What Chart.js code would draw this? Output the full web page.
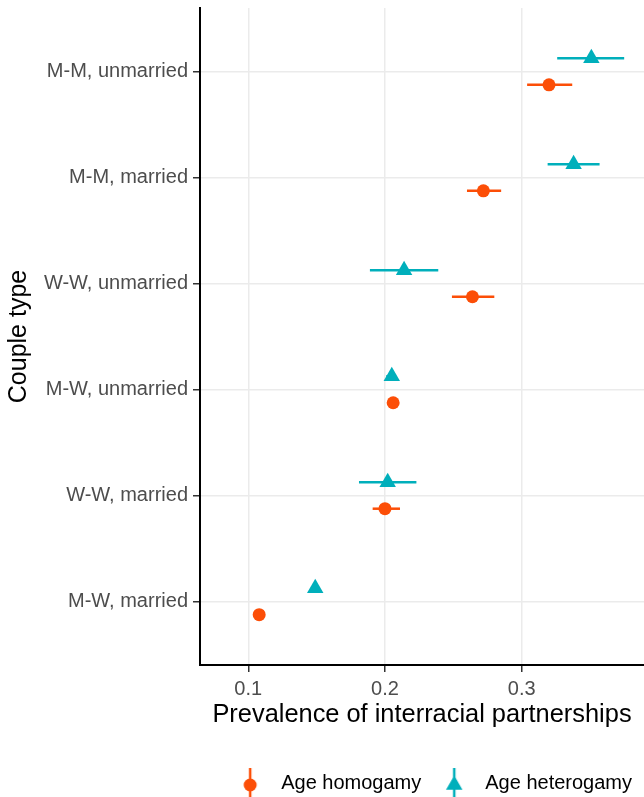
<!DOCTYPE html>
<html>
<head>
<meta charset="utf-8">
<script src="https://cdn.jsdelivr.net/npm/chart.js@4.4.1/dist/chart.umd.min.js"></script>
<style>
  html, body { margin: 0; padding: 0; background: #fff; }
  #wrap { width: 644px; height: 797px; }
</style>
</head>
<body>
<div id="wrap"><canvas id="prevChart"></canvas></div>
<script>
// categories listed top to bottom, as in the picture
const categories = ["M-M, unmarried", "M-M, married", "W-W, unmarried", "M-W, unmarried", "W-W, married", "M-W, married"];
const seriesNames = ["Age homogamy", "Age heterogamy"];

const homoMid = [0.320, 0.272, 0.264, 0.206, 0.200, 0.108];
const homoLo  = [0.304, 0.260, 0.249, 0.203, 0.191, 0.106];
const homoHi  = [0.337, 0.285, 0.280, 0.209, 0.211, 0.111];

const heteroMid = [0.351, 0.338, 0.214, 0.205, 0.202, 0.149];
const heteroLo  = [0.326, 0.319, 0.189, 0.201, 0.181, 0.146];
const heteroHi  = [0.375, 0.357, 0.239, 0.208, 0.223, 0.152];

const xTicks = [0.1, 0.2, 0.3];

const colors = ["#FC4E07", "#00AFBB"];
const font = "'Liberation Sans', Arial, sans-serif";

function rowPos(i) {
    return categories.length - i;
}

function buildPoints(mid, lo, hi, shift) {
    return categories.map((c, i) => ({ x: mid[i], y: rowPos(i) + shift, lo: lo[i], hi: hi[i] }));
}

// horizontal error bars, drawn under the markers
const errorBars = {
    id: "errorBars",
    beforeDatasetsDraw(chart) {
        const ctx = chart.ctx;
        const xs = chart.scales.x;
        const ys = chart.scales.y;
        chart.data.datasets.forEach(ds => {
            ctx.save();
            ctx.strokeStyle = ds.backgroundColor;
            ctx.lineWidth = 2.5;
            ds.data.forEach(p => {
                let y = ys.getPixelForValue(p.y);
                ctx.beginPath();
                ctx.moveTo(xs.getPixelForValue(p.lo), y);
                ctx.lineTo(xs.getPixelForValue(p.hi), y);
                ctx.stroke();
            });
            ctx.restore();
        });
    }
};

// legend key: vertical error bar with the marker on it
function keyGlyph(color, style, radius) {
    let c = document.createElement("canvas");
    c.width = 20;
    c.height = 40;
    let g = c.getContext("2d");
    g.strokeStyle = color;
    g.fillStyle = color;
    g.lineWidth = 2.5;
    g.beginPath();
    g.moveTo(10, 5);
    g.lineTo(10, 34);
    g.stroke();
    Chart.helpers.drawPoint(g, { pointStyle: style, radius: radius, borderWidth: 0, rotation: 0 }, 10, 22);
    return c;
}

const glyphs = [keyGlyph(colors[0], "circle", 6.5), keyGlyph(colors[1], "triangle", 9.5)];

let ctx = document.getElementById("prevChart").getContext("2d");
let chart = new Chart(ctx, {
    type: "scatter",
    data: {
        datasets: [
            {
                label: seriesNames[0],
                data: buildPoints(homoMid, homoLo, homoHi, -0.125),
                backgroundColor: colors[0],
                borderColor: colors[0],
                pointStyle: "circle",
                pointRadius: 6.5,
                pointBorderWidth: 0
            },
            {
                label: seriesNames[1],
                data: buildPoints(heteroMid, heteroLo, heteroHi, 0.125),
                backgroundColor: colors[1],
                borderColor: colors[1],
                pointStyle: "triangle",
                pointRadius: 9.5,
                pointBorderWidth: 0
            }
        ]
    },
    options: {
        responsive: true,
        maintainAspectRatio: false,
        animation: false,
        events: [],
        layout: { autoPadding: false, padding: { top: 8, right: 0, bottom: -6, left: 0 } },
        plugins: {
            tooltip: { enabled: false },
            legend: {
                position: "bottom",
                align: "end",
                labels: {
                    usePointStyle: true,
                    pointStyleWidth: 42,
                    boxHeight: 20,
                    padding: 12,
                    color: "#000",
                    font: { family: font, size: 20 },
                    generateLabels(ch) {
                        let items = Chart.defaults.plugins.legend.labels.generateLabels(ch);
                        items.forEach((it, k) => { it.pointStyle = glyphs[k]; });
                        return items;
                    }
                }
            }
        },
        scales: {
            x: {
                type: "linear",
                min: 0.0647,
                max: 0.3895,
                afterBuildTicks(axis) {
                    axis.ticks = xTicks.map(v => ({ value: v }));
                },
                afterFit(axis) {
                    axis.height = 96;
                    axis.paddingLeft = 0;
                    axis.paddingRight = 0;
                },
                ticks: {
                    color: "#4d4d4d",
                    padding: 5,
                    maxRotation: 0,
                    font: { family: font, size: 20 },
                    callback: v => v.toFixed(1)
                },
                grid: { color: "#ebebeb", lineWidth: 1.5, tickLength: 7, tickColor: "#333", tickWidth: 1.5 },
                border: { display: true, color: "#000", width: 2 },
                title: {
                    display: true,
                    text: "Prevalence of interracial partnerships",
                    color: "#000",
                    font: { family: font, size: 25.4 },
                    padding: { top: 0, bottom: 31 }
                }
            },
            y: {
                type: "linear",
                min: 0.4,
                max: categories.length + 0.6,
                afterBuildTicks(axis) {
                    axis.ticks = categories.map((c, i) => ({ value: rowPos(i) }));
                },
                afterFit(axis) {
                    axis.width = 200;
                    axis.paddingTop = 0;
                    axis.paddingBottom = 0;
                },
                ticks: {
                    color: "#4d4d4d",
                    padding: 5,
                    font: { family: font, size: 20 },
                    callback: v => categories[categories.length - Math.round(v)]
                },
                grid: { color: "#ebebeb", lineWidth: 1.5, tickLength: 7, tickColor: "#333", tickWidth: 1.5 },
                border: { display: true, color: "#000", width: 2 },
                title: {
                    display: true,
                    text: "Couple type",
                    color: "#000",
                    font: { family: font, size: 25 },
                    padding: { top: 4, bottom: 0 }
                }
            }
        }
    },
    plugins: [errorBars]
});
</script>
</body>
</html>
